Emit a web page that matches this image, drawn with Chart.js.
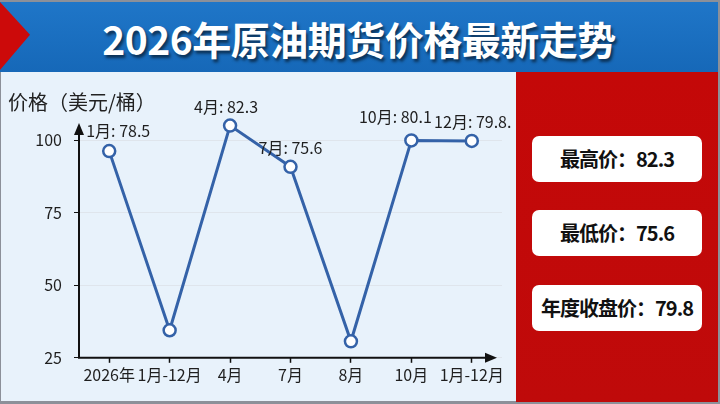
<!DOCTYPE html>
<html>
<head>
<meta charset="utf-8">
<script src="https://cdn.jsdelivr.net/npm/chart.js@4"></script>
<style>
  html, body { margin: 0; padding: 0; }
  body { width: 720px; height: 404px; position: relative; overflow: hidden; background: #8c9099;
         font-family: "Noto Sans CJK SC", "Noto Sans", sans-serif; }
  #header { position: absolute; left: 0; top: 2px; width: 718px; height: 70px;
            background: linear-gradient(#1f76c8, #1668b8); }
  #flag { position: absolute; left: 0; top: 0; width: 30px; height: 68px; background: #cc0a0a;
          clip-path: polygon(0 0, 100% 48%, 0 100%); }
  #title { position: absolute; left: 0; top: 0; width: 718px; height: 70px; line-height: 72px;
           text-align: center; color: #fff; font-size: 39px; font-weight: bold; letter-spacing: -0.5px;
           text-shadow: 2px 3px 3px rgba(0,0,0,0.55); }
  #left { position: absolute; left: 1px; top: 72px; width: 515px; height: 329px; background: #e8f2fb; }
  #wrap { position: absolute; left: -1px; top: 0; width: 516px; height: 328px; }
  #right { position: absolute; left: 516px; top: 72px; width: 202px; height: 330px;
           background: linear-gradient(#c40808, #bf0a0a); }
  .box { position: absolute; left: 16px; width: 170px; height: 46px; background: #fff; border-radius: 7px;
         text-align: center; line-height: 46px; font-size: 20px; font-weight: bold; color: #111;
         letter-spacing: -1px; white-space: nowrap; }
</style>
</head>
<body>
<div id="header"><div id="flag"></div><div id="title">2026年原油期货价格最新走势</div></div>
<div id="left"><div id="wrap"><canvas id="priceChart"></canvas></div></div>
<div id="right"></div>
<script>
// chart data
const categories = ['2026年', '1月-12月', '4月', '7月', '8月', '10月', '1月-12月'];
const prices = [96.3, 34.5, 105.1, 90.9, 30.7, 100, 99.8];
const pointLabels = ['1月: 78.5', '', '4月: 82.3', '7月: 75.6', '', '10月: 80.1', '12月: 79.8.'];
const yTicks = [25, 50, 75, 100];

// summary cards
const summaryNames = ['最高价', '最低价', '年度收盘价'];
const summaryValues = [82.3, 75.6, 79.8];

// label nudges (px) so the texts sit where the reference has them
const labelOffsets = [[9, -20], [0, 0], [-4, -19], [0, -19], [0, 0], [-16, -23], [1, -19]];

const lineColor = '#3462a8';

// summary boxes
const boxTops = [64, 138, 213];
const right = document.getElementById('right');
summaryNames.forEach((name, i) => {
    const div = document.createElement('div');
    div.className = 'box';
    div.style.top = boxTops[i] + 'px';
    div.textContent = name + '：' + summaryValues[i];
    right.appendChild(div);
});

// arrows for the axes + text next to points
const decorations = {
    id: 'decorations',
    beforeDatasetsDraw(chart) {
        const { ctx, chartArea: a } = chart;
        ctx.save();
        ctx.strokeStyle = '#111';
        ctx.fillStyle = '#111';
        ctx.lineWidth = 2;
        // y axis
        ctx.beginPath();
        ctx.moveTo(a.left, a.bottom);
        ctx.lineTo(a.left, a.top + 8);
        ctx.stroke();
        ctx.beginPath();
        ctx.moveTo(a.left, a.top);
        ctx.lineTo(a.left - 5, a.top + 12);
        ctx.lineTo(a.left + 5, a.top + 12);
        ctx.closePath();
        ctx.fill();
        // x axis
        const tip = a.right - 5;
        ctx.beginPath();
        ctx.moveTo(a.left - 1, a.bottom);
        ctx.lineTo(tip - 8, a.bottom);
        ctx.stroke();
        ctx.beginPath();
        ctx.moveTo(tip, a.bottom);
        ctx.lineTo(tip - 12, a.bottom - 5);
        ctx.lineTo(tip - 12, a.bottom + 5);
        ctx.closePath();
        ctx.fill();
        ctx.restore();
    },
    afterDatasetsDraw(chart) {
        const { ctx } = chart;
        const pts = chart.getDatasetMeta(0).data;
        ctx.save();
        ctx.font = '16px "Noto Sans CJK SC", sans-serif';
        ctx.fillStyle = '#1f1f1f';
        ctx.textAlign = 'center';
        ctx.textBaseline = 'middle';
        pts.forEach((p, i) => {
            if (!pointLabels[i]) return;
            ctx.fillText(pointLabels[i], p.x + labelOffsets[i][0], p.y + labelOffsets[i][1]);
        });
        ctx.restore();
    }
};

const ctx = document.getElementById('priceChart').getContext('2d');
const chart = new Chart(ctx, {
    type: 'line',
    data: {
        labels: categories,
        datasets: [{
            data: prices,
            borderColor: lineColor,
            borderWidth: 3,
            pointRadius: 6,
            pointHoverRadius: 6,
            pointBackgroundColor: '#fff',
            pointBorderColor: lineColor,
            pointBorderWidth: 2.5,
            tension: 0,
            clip: false,
        }],
    },
    options: {
        responsive: true,
        maintainAspectRatio: false,
        animation: false,
        events: [],
        layout: { padding: { left: 8, right: 14, top: 0, bottom: 12 } },
        plugins: {
            legend: { display: false },
            tooltip: { enabled: false },
            title: {
                display: true,
                text: '价格（美元/桶）',
                align: 'start',
                color: '#222',
                font: { family: '"Noto Sans CJK SC", sans-serif', size: 20, weight: 'normal' },
                padding: { top: 18, bottom: 9 },
            },
        },
        scales: {
            x: {
                offset: true,
                border: { display: false },
                grid: { offset: false, drawOnChartArea: false, tickColor: '#111', tickLength: 5, tickWidth: 1.5 },
                ticks: {
                    autoSkip: false,
                    maxRotation: 0,
                    padding: 3,
                    color: '#1f1f1f',
                    font: { family: '"Noto Sans CJK SC", sans-serif', size: 16 },
                },
            },
            y: {
                min: 25,
                max: 106,
                border: { display: false },
                afterBuildTicks: axis => { axis.ticks = yTicks.map(v => ({ value: v })); },
                afterFit: axis => { axis.width = 71; },
                grid: { color: '#dfe5ec', tickColor: '#111', tickLength: 5, lineWidth: 1 },
                ticks: {
                    padding: 12,
                    color: '#1f1f1f',
                    font: { family: '"Noto Sans CJK SC", sans-serif', size: 16 },
                },
            },
        },
    },
    plugins: [decorations],
});
</script>
</body>
</html>
